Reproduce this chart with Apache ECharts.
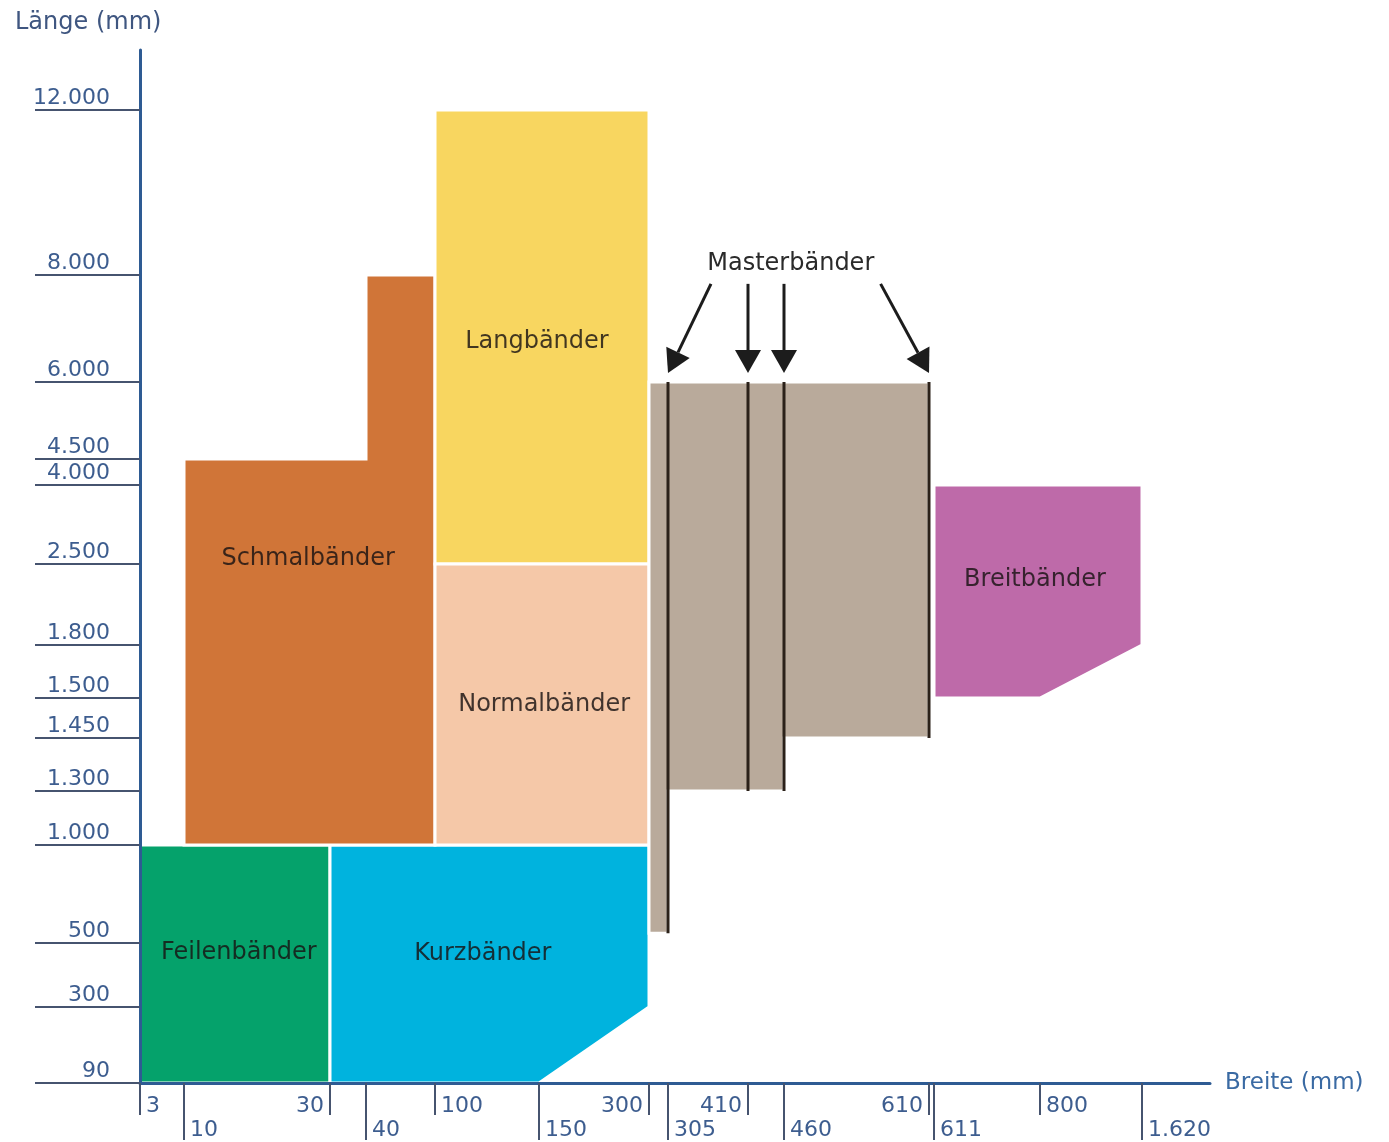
<!DOCTYPE html>
<html>
<head>
<meta charset="utf-8">
<title>Bandformate</title>
<script src="https://cdn.jsdelivr.net/npm/echarts@6/dist/echarts.min.js"></script>
<style>
  html, body { margin: 0; padding: 0; background: #fff; }
  #chart { width: 1389px; height: 1142px; }
</style>
</head>
<body>
<div id="chart"></div>
<script>
// Achsen-Ticks (mm)
const breiteTicks = [3, 10, 30, 40, 100, 150, 300, 305, 410, 460, 610, 611, 800, 1620];
const laengeTicks = [90, 300, 500, 1000, 1300, 1450, 1500, 1800, 2500, 4000, 4500, 6000, 8000, 12000];

// Bandformate als Umrisse [Breite, Länge] in mm
const bandNamen = ['Feilenbänder', 'Kurzbänder', 'Schmalbänder', 'Langbänder', 'Normalbänder', 'Masterbänder', 'Breitbänder'];
const feilenbaender = [[3, 90], [30, 90], [30, 1000], [3, 1000]];
const kurzbaender = [[30, 90], [150, 90], [300, 300], [300, 1000], [30, 1000]];
const schmalbaender = [[10, 1000], [100, 1000], [100, 8000], [40, 8000], [40, 4500], [10, 4500]];
const langbaender = [[100, 2500], [300, 2500], [300, 12000], [100, 12000]];
const normalbaender = [[100, 1000], [300, 1000], [300, 2500], [100, 2500]];
const masterbaender = [[300, 550], [305, 550], [305, 1300], [460, 1300], [460, 1450], [610, 1450], [610, 6000], [300, 6000]];
const breitbaender = [[611, 1500], [800, 1500], [1620, 1800], [1620, 4000], [611, 4000]];

// Masterbänder: einzelne Breiten und ihre Längenbereiche
const masterBreiten = [305, 410, 460, 610];
const masterLaengeVon = [550, 1300, 1300, 1450];
const masterLaengeBis = 6000;

// ---- Darstellung ----
// nicht-lineare Achsen: Achseneinheiten je Tick
const breiteSkala = [0, 44, 190, 226, 295, 399, 509, 528, 608, 644, 789, 794, 900, 1002];
const laengeSkala = [0, 76, 140, 238, 292, 345, 385, 438, 519, 598, 624, 701, 808, 973];

const umrisse = [feilenbaender, kurzbaender, schmalbaender, langbaender, normalbaender, masterbaender, breitbaender];
const farben = ['#05a26b', '#00b3de', '#d07538', '#f8d660', '#f5c8a8', '#b9aa9b', '#be6aa9'];
// Beschriftungspunkte [Breite, Länge]
const textPunkte = [[17.5, 470], [123, 465], [27, 2600], [149, 6750], [157, 1492], [467, 8270], [791, 2360]];

const obenRechts = [3, 100, 800];
const obenLinks = [30, 300, 410, 610];
const unten = [10, 40, 150, 305, 460, 611, 1620];

const blau = '#2e5b93';
const tickFarbe = '#46546f';
const labelFarbe = '#3d5d8f';
const schrift = 'DejaVu Sans';

function skaliere(v, ticks, skala) {
  for (let i = 0; i < ticks.length - 1; i++) {
    if (v <= ticks[i + 1] || i === ticks.length - 2) {
      const t = (v - ticks[i]) / (ticks[i + 1] - ticks[i]);
      return skala[i] + t * (skala[i + 1] - skala[i]);
    }
  }
}
const fx = v => skaliere(v, breiteTicks, breiteSkala);
const fy = v => skaliere(v, laengeTicks, laengeSkala);

function deutsch(v) {
  return String(v).replace(/\B(?=(\d{3})+(?!\d))/g, '.');
}
function tickText(wert, ticks, skala) {
  let best = 0;
  skala.forEach((s, i) => { if (Math.abs(s - wert) < Math.abs(skala[best] - wert)) best = i; });
  return deutsch(ticks[best]);
}

// eine x-Achse je Beschriftungsreihe (kurze/lange Ticks, links/rechts bündig)
function xAchse(werte, tickLaenge, abstand, ausrichtung, extra) {
  const einheiten = werte.map(fx);
  return Object.assign({
    type: 'value',
    gridIndex: 0,
    position: 'bottom',
    min: 0,
    max: 1070,
    z: 5,
    axisLine: { show: false, onZero: false },
    axisTick: { show: true, customValues: einheiten, length: tickLaenge, lineStyle: { color: tickFarbe, width: 2 } },
    axisLabel: {
      customValues: einheiten,
      formatter: v => tickText(v, breiteTicks, breiteSkala),
      color: labelFarbe,
      fontSize: 22,
      fontFamily: schrift,
      margin: abstand,
      align: ausrichtung,
      padding: ausrichtung === 'left' ? [0, 0, 0, 6] : [0, 6, 0, 0]
    },
    splitLine: { show: false }
  }, extra || {});
}

const chart = echarts.init(document.getElementById('chart'));

chart.setOption({
  animation: false,
  title: {
    text: 'Länge (mm)',
    left: 10,
    top: 6,
    textStyle: { color: '#3f5680', fontSize: 24, fontWeight: 'normal', fontFamily: schrift }
  },
  grid: { left: 140, right: 179, top: 50, bottom: 59, containLabel: false, outerBoundsMode: 'none' },
  xAxis: [
    xAchse(obenRechts, 32, 12, 'left', {
      name: 'Breite (mm)',
      nameLocation: 'end',
      nameGap: 15,
      nameTextStyle: { color: '#3a6aa3', fontSize: 23, fontFamily: schrift, padding: [0, 0, 12, 0] },
      axisLine: { show: true, onZero: false, lineStyle: { color: blau, width: 3 } }
    }),
    xAchse(obenLinks, 32, 12, 'right'),
    xAchse(unten, 57, 36, 'left')
  ],
  yAxis: {
    type: 'value',
    min: 0,
    max: 1033,
    z: 5,
    axisLine: { show: true, onZero: false, lineStyle: { color: blau, width: 3 } },
    axisTick: { show: true, customValues: laengeSkala, length: 105, lineStyle: { color: tickFarbe, width: 2 } },
    axisLabel: {
      customValues: laengeSkala,
      showMinLabel: true,
      showMaxLabel: true,
      formatter: v => tickText(v, laengeTicks, laengeSkala),
      color: labelFarbe,
      fontSize: 22,
      fontFamily: schrift,
      margin: 30,
      verticalAlign: 'bottom',
      lineHeight: 24
    },
    splitLine: { show: false }
  },
  series: [{
    type: 'custom',
    name: 'Bandformate',
    xAxisIndex: 0,
    yAxisIndex: 0,
    silent: true,
    clip: false,
    data: bandNamen.map((n, i) => [i, i]),
    renderItem: function (params, api) {
      const i = params.dataIndex;
      const p = (b, l) => api.coord([fx(b), fy(l)]);
      const kinder = [{
        type: 'polygon',
        shape: { points: umrisse[i].map(pt => p(pt[0], pt[1])) },
        style: { fill: farben[i], stroke: '#fff', lineWidth: 3 }
      }];
      const tp = p(textPunkte[i][0], textPunkte[i][1]);
      const istMaster = bandNamen[i] === 'Masterbänder';
      kinder.push({
        type: 'text',
        z2: 10,
        style: {
          text: bandNamen[i],
          x: tp[0],
          y: tp[1],
          align: 'center',
          verticalAlign: 'middle',
          fontSize: 24,
          fontFamily: schrift,
          fill: istMaster ? '#2a2a2a' : 'rgba(25,18,18,0.82)'
        }
      });
      if (istMaster) {
        masterBreiten.forEach((b, k) => {
          const oben = p(b, masterLaengeBis);
          const untenP = p(b, masterLaengeVon[k]);
          kinder.push({
            type: 'line',
            z2: 5,
            shape: { x1: oben[0], y1: oben[1], x2: untenP[0], y2: untenP[1] },
            style: { stroke: '#2b2119', lineWidth: 3 }
          });
          // Pfeil von der Beschriftung zur Linie
          const spitze = [oben[0], oben[1] - 9];
          const dx = tp[0] - spitze[0];
          const start = [Math.abs(dx) < 50 ? spitze[0] : spitze[0] + dx * 0.35, tp[1] + 20];
          const len = Math.hypot(spitze[0] - start[0], spitze[1] - start[1]);
          const u = [(spitze[0] - start[0]) / len, (spitze[1] - start[1]) / len];
          const n = [-u[1], u[0]];
          const basis = [spitze[0] - u[0] * 23, spitze[1] - u[1] * 23];
          kinder.push({
            type: 'line',
            z2: 5,
            shape: { x1: start[0], y1: start[1], x2: basis[0], y2: basis[1] },
            style: { stroke: '#1c1c1c', lineWidth: 3 }
          });
          kinder.push({
            type: 'polygon',
            z2: 5,
            shape: { points: [spitze, [basis[0] + n[0] * 13, basis[1] + n[1] * 13], [basis[0] - n[0] * 13, basis[1] - n[1] * 13]] },
            style: { fill: '#1c1c1c' }
          });
        });
      }
      return { type: 'group', children: kinder };
    }
  }]
});
</script>
</body>
</html>
